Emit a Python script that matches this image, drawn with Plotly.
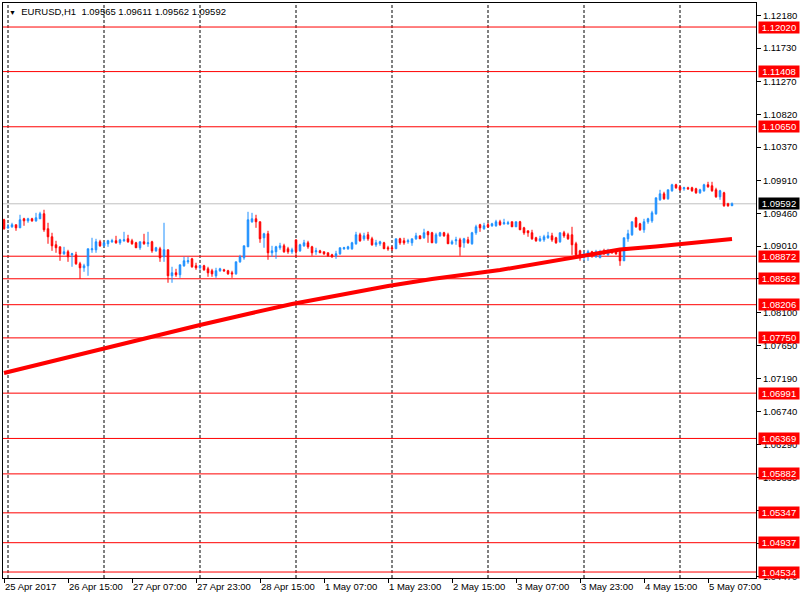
import plotly.graph_objects as go

# ---------------- DATA ----------------
symbol = "EURUSD,H1"

day_names = ["25 Apr", "26 Apr", "27 Apr", "28 Apr", "1 May", "2 May", "3 May", "4 May", "5 May"]
first_hour = [23, 0, 0, 0, 0, 0, 0, 0, 0]
last_hour = [23, 23, 23, 23, 23, 23, 23, 23, 13]
first_label = "25 Apr 2017"

open_ = [1.09372, 1.09262, 1.09276, 1.09304, 1.09262, 1.09386, 1.09358, 1.09386, 1.09358, 1.09386,
         1.09455, 1.09249, 1.09139, 1.09029, 1.09001, 1.08905, 1.08933, 1.08891, 1.08891, 1.08768,
         1.08713, 1.08740, 1.08960, 1.08960, 1.09070, 1.09015, 1.09043, 1.09070, 1.09084, 1.09056,
         1.09084, 1.09111, 1.09084, 1.09056, 1.08988, 1.09070, 1.09043, 1.09070, 1.08946, 1.08974,
         1.08864, 1.08960, 1.08603, 1.08644, 1.08617, 1.08740, 1.08795, 1.08836, 1.08740, 1.08713,
         1.08740, 1.08699, 1.08672, 1.08603, 1.08672, 1.08685, 1.08672, 1.08644, 1.08630, 1.08795,
         1.08850, 1.09001, 1.09345, 1.09386, 1.09345, 1.09125, 1.09180, 1.08919, 1.08933, 1.08988,
         1.09015, 1.08974, 1.08933, 1.09097, 1.08946, 1.09015, 1.09056, 1.09001, 1.08933, 1.08946,
         1.08933, 1.08919, 1.08891, 1.08878, 1.08905, 1.08974, 1.08974, 1.08974, 1.09043, 1.09166,
         1.09111, 1.09166, 1.09111, 1.09029, 1.09043, 1.09056, 1.08988, 1.08988, 1.08974, 1.09111,
         1.09084, 1.09070, 1.09056, 1.09111, 1.09152, 1.09125, 1.09207, 1.09194, 1.09056, 1.09152,
         1.09194, 1.09166, 1.09043, 1.09084, 1.09097, 1.09056, 1.09097, 1.09043, 1.09194, 1.09304,
         1.09249, 1.09304, 1.09290, 1.09290, 1.09345, 1.09317, 1.09317, 1.09345, 1.09276, 1.09345,
         1.09262, 1.09221, 1.09194, 1.09125, 1.09084, 1.09097, 1.09125, 1.09152, 1.09125, 1.09070,
         1.09194, 1.09166, 1.09166, 1.09043, 1.08946, 1.08878, 1.08891, 1.08933, 1.08864, 1.08850,
         1.08946, 1.08891, 1.08946, 1.08933, 1.08946, 1.08809, 1.09111, 1.09166, 1.09400, 1.09317,
         1.09235, 1.09345, 1.09358, 1.09455, 1.09647, 1.09729, 1.09661, 1.09771, 1.09853, 1.09826,
         1.09798, 1.09812, 1.09812, 1.09798, 1.09743, 1.09771, 1.09853, 1.09839, 1.09784, 1.09688,
         1.09743, 1.09592, 1.09565]

high = [1.09386, 1.09317, 1.09331, 1.09304, 1.09441, 1.09400, 1.09400, 1.09400, 1.09468, 1.09482,
        1.09510, 1.09331, 1.09194, 1.09084, 1.09001, 1.09001, 1.08960, 1.08919, 1.08933, 1.08795,
        1.08768, 1.08974, 1.09125, 1.09111, 1.09097, 1.09070, 1.09097, 1.09111, 1.09152, 1.09111,
        1.09207, 1.09166, 1.09111, 1.09070, 1.09070, 1.09180, 1.09207, 1.09084, 1.09001, 1.09001,
        1.09331, 1.08960, 1.08727, 1.08699, 1.08754, 1.08864, 1.08864, 1.08850, 1.08782, 1.08754,
        1.08754, 1.08727, 1.08699, 1.08713, 1.08713, 1.08699, 1.08685, 1.08672, 1.08795, 1.08891,
        1.09015, 1.09482, 1.09468, 1.09441, 1.09345, 1.09194, 1.09221, 1.09015, 1.09015, 1.09056,
        1.09043, 1.09001, 1.08988, 1.09097, 1.09043, 1.09097, 1.09084, 1.09015, 1.08988, 1.08960,
        1.08933, 1.08919, 1.08905, 1.08946, 1.08988, 1.09001, 1.09015, 1.09070, 1.09207, 1.09194,
        1.09194, 1.09207, 1.09139, 1.09097, 1.09084, 1.09070, 1.09015, 1.09015, 1.09111, 1.09125,
        1.09125, 1.09111, 1.09111, 1.09194, 1.09152, 1.09249, 1.09221, 1.09207, 1.09194, 1.09207,
        1.09207, 1.09194, 1.09097, 1.09139, 1.09125, 1.09125, 1.09139, 1.09207, 1.09304, 1.09317,
        1.09331, 1.09331, 1.09331, 1.09372, 1.09372, 1.09386, 1.09358, 1.09345, 1.09345, 1.09358,
        1.09276, 1.09221, 1.09235, 1.09139, 1.09152, 1.09166, 1.09207, 1.09194, 1.09139, 1.09194,
        1.09221, 1.09194, 1.09276, 1.09070, 1.08960, 1.08933, 1.08960, 1.08946, 1.08960, 1.08960,
        1.08974, 1.08974, 1.08960, 1.08946, 1.08960, 1.09125, 1.09235, 1.09345, 1.09413, 1.09331,
        1.09386, 1.09400, 1.09496, 1.09674, 1.09784, 1.09757, 1.09784, 1.09867, 1.09867, 1.09839,
        1.09826, 1.09826, 1.09826, 1.09812, 1.09798, 1.09867, 1.09894, 1.09894, 1.09812, 1.09784,
        1.09757, 1.09606, 1.09611]

low = [1.09235, 1.09249, 1.09262, 1.09221, 1.09262, 1.09290, 1.09331, 1.09345, 1.09345, 1.09386,
       1.09207, 1.09043, 1.08946, 1.08919, 1.08809, 1.08891, 1.08795, 1.08727, 1.08754, 1.08562,
       1.08658, 1.08603, 1.08919, 1.08919, 1.09001, 1.09001, 1.09001, 1.09056, 1.09043, 1.09029,
       1.09070, 1.09056, 1.09029, 1.08988, 1.08960, 1.09029, 1.09001, 1.08919, 1.08933, 1.08795,
       1.08795, 1.08507, 1.08507, 1.08589, 1.08575, 1.08727, 1.08768, 1.08713, 1.08685, 1.08685,
       1.08672, 1.08589, 1.08589, 1.08575, 1.08658, 1.08658, 1.08617, 1.08575, 1.08617, 1.08782,
       1.08823, 1.09001, 1.09331, 1.09262, 1.09056, 1.08988, 1.08823, 1.08864, 1.08836, 1.08960,
       1.08919, 1.08905, 1.08905, 1.08864, 1.08933, 1.09001, 1.08974, 1.08878, 1.08891, 1.08919,
       1.08891, 1.08864, 1.08850, 1.08836, 1.08891, 1.08960, 1.08960, 1.08960, 1.09029, 1.09070,
       1.09084, 1.09084, 1.09015, 1.09001, 1.09015, 1.08974, 1.08946, 1.08946, 1.08974, 1.09029,
       1.09029, 1.09043, 1.09015, 1.09097, 1.09111, 1.09111, 1.09056, 1.09056, 1.09043, 1.09139,
       1.09139, 1.09043, 1.09029, 1.09029, 1.08878, 1.08988, 1.09043, 1.09029, 1.09166, 1.09207,
       1.09235, 1.09262, 1.09276, 1.09276, 1.09290, 1.09304, 1.09304, 1.09276, 1.09276, 1.09235,
       1.09166, 1.09139, 1.09097, 1.09070, 1.09070, 1.09070, 1.09111, 1.09070, 1.09043, 1.09056,
       1.09125, 1.09097, 1.08891, 1.08864, 1.08809, 1.08809, 1.08809, 1.08850, 1.08850, 1.08850,
       1.08891, 1.08878, 1.08905, 1.08891, 1.08740, 1.08809, 1.09070, 1.09152, 1.09262, 1.09221,
       1.09194, 1.09317, 1.09331, 1.09441, 1.09633, 1.09647, 1.09647, 1.09757, 1.09798, 1.09771,
       1.09771, 1.09784, 1.09757, 1.09729, 1.09729, 1.09757, 1.09812, 1.09757, 1.09674, 1.09647,
       1.09551, 1.09551, 1.09562]

close = [1.09249, 1.09276, 1.09304, 1.09262, 1.09372, 1.09358, 1.09386, 1.09358, 1.09400, 1.09455,
         1.09235, 1.09139, 1.09015, 1.08988, 1.08905, 1.08933, 1.08864, 1.08905, 1.08768, 1.08713,
         1.08740, 1.08974, 1.08974, 1.09070, 1.09015, 1.09056, 1.09084, 1.09084, 1.09056, 1.09097,
         1.09097, 1.09070, 1.09043, 1.08988, 1.09070, 1.09043, 1.09056, 1.08946, 1.08988, 1.08850,
         1.08960, 1.08603, 1.08644, 1.08617, 1.08754, 1.08809, 1.08809, 1.08727, 1.08713, 1.08740,
         1.08685, 1.08644, 1.08630, 1.08672, 1.08699, 1.08672, 1.08630, 1.08630, 1.08795, 1.08864,
         1.09015, 1.09372, 1.09386, 1.09345, 1.09111, 1.09180, 1.08919, 1.08946, 1.09001, 1.09015,
         1.08933, 1.08933, 1.08960, 1.08933, 1.09029, 1.09056, 1.09001, 1.08919, 1.08946, 1.08919,
         1.08905, 1.08878, 1.08864, 1.08905, 1.08988, 1.08988, 1.09001, 1.09056, 1.09166, 1.09084,
         1.09152, 1.09111, 1.09029, 1.09056, 1.09070, 1.08974, 1.08974, 1.08974, 1.09111, 1.09056,
         1.09056, 1.09084, 1.09111, 1.09152, 1.09111, 1.09194, 1.09166, 1.09056, 1.09166, 1.09194,
         1.09152, 1.09043, 1.09070, 1.09097, 1.09001, 1.09111, 1.09056, 1.09194, 1.09276, 1.09262,
         1.09290, 1.09276, 1.09317, 1.09345, 1.09304, 1.09331, 1.09331, 1.09276, 1.09345, 1.09235,
         1.09194, 1.09194, 1.09111, 1.09084, 1.09111, 1.09139, 1.09152, 1.09097, 1.09056, 1.09194,
         1.09152, 1.09111, 1.09029, 1.08891, 1.08850, 1.08905, 1.08933, 1.08891, 1.08933, 1.08933,
         1.08905, 1.08946, 1.08919, 1.08905, 1.08809, 1.09125, 1.09180, 1.09345, 1.09276, 1.09235,
         1.09345, 1.09386, 1.09468, 1.09674, 1.09729, 1.09661, 1.09784, 1.09853, 1.09812, 1.09784,
         1.09812, 1.09798, 1.09771, 1.09743, 1.09784, 1.09853, 1.09826, 1.09771, 1.09688, 1.09771,
         1.09565, 1.09565, 1.09592]

# moving average read at selected bars (bar index, value)
ma_bar = [0, 12, 25, 37, 49, 62, 72, 96, 107, 124, 139, 146, 154, 163, 171, 182]
ma_val = [1.07267, 1.07432, 1.07597, 1.07762, 1.07927, 1.08092, 1.08215, 1.08462, 1.08559,
          1.08682, 1.08826, 1.08895, 1.08964, 1.09005, 1.09053, 1.09108]

# horizontal levels
levels = [1.12020, 1.11408, 1.10650, 1.08872, 1.08562, 1.08206, 1.07750,
          1.06991, 1.06369, 1.05882, 1.05347, 1.04937, 1.04534]

# price-axis tick labels
price_ticks = [1.12180, 1.11730, 1.11270, 1.10820, 1.10370, 1.09910, 1.09460, 1.09010, 1.08560,
               1.08100, 1.07650, 1.07190, 1.06740, 1.06290, 1.05830, 1.05380, 1.04920, 1.04470]
y_range = [1.04452, 1.12350]
label_every = 16

# ---------------- BUILD ----------------
bars = []
for d, h0, h1 in zip(day_names, first_hour, last_hour):
    for h in range(h0, h1 + 1):
        bars.append((d, h))
x = list(range(len(bars)))

tickvals = list(range(0, len(bars), label_every))
ticktext = [first_label if i == 0 else f"{bars[i][0]} {bars[i][1]:02d}:00" for i in tickvals]
separators = [i for i, (d, h) in enumerate(bars) if h == 0]

FONT = "Liberation Sans, Arial, sans-serif"
BLUE = "#1E90FF"
RED = "#FF0000"

fig = go.Figure()
fig.add_trace(go.Candlestick(
    x=x, open=open_, high=high, low=low, close=close,
    increasing=dict(line=dict(color=BLUE, width=1), fillcolor=BLUE),
    decreasing=dict(line=dict(color=RED, width=1), fillcolor=RED),
    whiskerwidth=0, showlegend=False, hoverinfo="skip",
))
fig.add_trace(go.Scatter(
    x=ma_bar, y=ma_val, mode="lines",
    line=dict(color=RED, width=4), showlegend=False, hoverinfo="skip",
))

shapes = []
for s in separators:
    shapes.append(dict(type="line", xref="x", yref="paper", x0=s, x1=s, y0=0, y1=1,
                       line=dict(color="black", width=1, dash="3px,2px"), layer="below"))
for lv in levels:
    shapes.append(dict(type="line", xref="paper", yref="y", x0=0, x1=1, y0=lv, y1=lv,
                       line=dict(color=RED, width=1), layer="below"))
last_price = close[-1]
shapes.append(dict(type="line", xref="paper", yref="y", x0=0, x1=1, y0=last_price, y1=last_price,
                   line=dict(color="#C0C0C0", width=1), layer="below"))

annotations = []
for lv in levels:
    annotations.append(dict(x=1, xref="paper", y=lv, yref="y", text=f"{lv:.5f}",
                            showarrow=False, xanchor="left", xshift=2, yanchor="middle",
                            bgcolor=RED, width=40, height=11, borderpad=0, align="center",
                            font=dict(family=FONT, size=9.5, color="white")))
annotations.append(dict(x=1, xref="paper", y=last_price, yref="y", text=f"{last_price:.5f}",
                        showarrow=False, xanchor="left", xshift=2, yanchor="middle",
                        bgcolor="black", width=40, height=11, borderpad=0, align="center",
                        font=dict(family=FONT, size=9.5, color="white")))
title = (f"<span style='font-size:7px'>▼</span>  {symbol}  "
         f"{open_[-1]:.5f} {high[-1]:.5f} {low[-1]:.5f} {close[-1]:.5f}")
annotations.append(dict(x=0, xref="paper", y=1, yref="paper", text=title, showarrow=False,
                        xanchor="left", yanchor="top", xshift=4, yshift=-1,
                        font=dict(family=FONT, size=9.5, color="black")))

fig.update_layout(
    width=800, height=600,
    margin=dict(l=3, r=44, t=3, b=22, autoexpand=False),
    paper_bgcolor="white", plot_bgcolor="white",
    boxgap=0.45,
    shapes=shapes, annotations=annotations,
    xaxis=dict(range=[-0.25, 188], showgrid=False, zeroline=False, automargin=False,
               showline=True, mirror=True, linecolor="black", linewidth=1,
               ticks="outside", ticklen=4, tickcolor="black",
               tickvals=tickvals, ticktext=ticktext, ticklabelposition="outside right",
               tickfont=dict(family=FONT, size=9.5, color="black"),
               rangeslider=dict(visible=False), fixedrange=True),
    yaxis=dict(range=y_range, side="right", showgrid=False, zeroline=False, automargin=False,
               showline=True, mirror=True, linecolor="black", linewidth=1,
               ticks="outside", ticklen=4, tickcolor="black",
               tickvals=price_ticks, ticktext=[f"{v:.5f}" for v in price_ticks],
               tickfont=dict(family=FONT, size=9.5, color="black"), fixedrange=True),
)

fig.write_html("out.html", config={"displayModeBar": False},
               post_script="document.body.style.margin='0px';document.body.style.overflow='hidden';")
